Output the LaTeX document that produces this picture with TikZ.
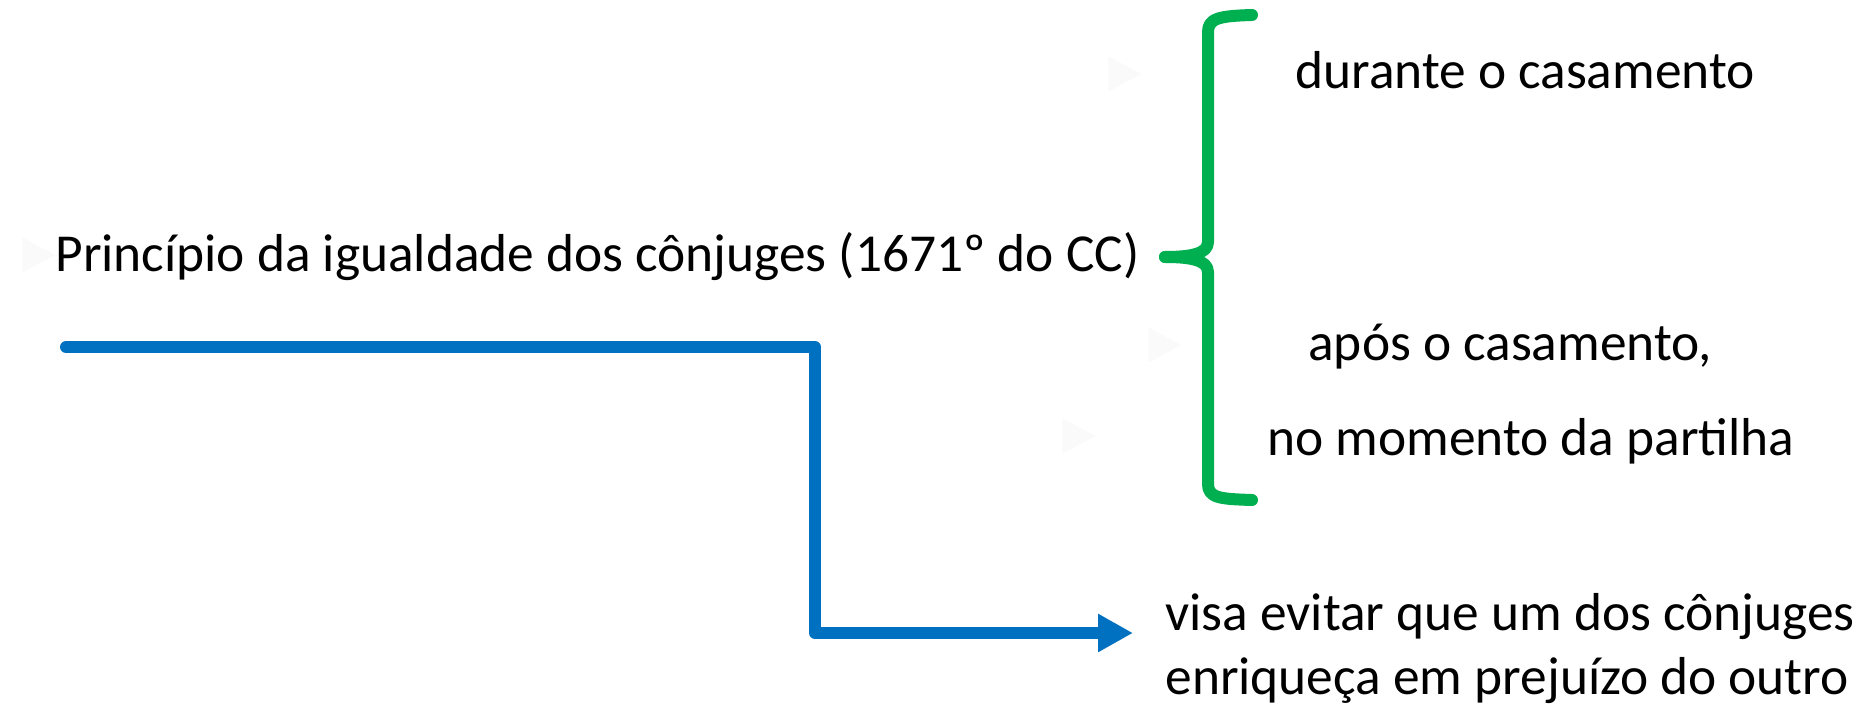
\documentclass[tikz,border=0pt]{standalone}
\usepackage{fontspec}
\setmainfont{Carlito}
\usepackage{xcolor}
\usepackage{tikz}
\usetikzlibrary{arrows.meta, positioning, shapes.geometric}

\definecolor{bracegreen}{HTML}{00B050}
\definecolor{arrowblue}{HTML}{0070C0}

\begin{document}
\begin{tikzpicture}[
      x=0.5pt, y=-0.5pt,
      every node/.style={inner sep=0pt, font=\fontsize{26.7}{31}\selectfont},
      label text/.style={anchor=base west, align=left},
      ghost/.style={isosceles triangle, isosceles triangle stretches,
        fill=black!2, minimum width=17.5pt, minimum height=16.5pt},
      brace line/.style={draw=bracegreen, line width=6pt, line cap=round, line join=round},
      flow line/.style={draw=arrowblue, line width=6pt, line cap=round, line join=round,
        -{Triangle[length=17.5pt, width=18pt]}},
    ]

    \useasboundingbox (0,0) rectangle (1873,705);

    % faint bullets
    \node[ghost] (b0) at (33,255)   {};
    \node[ghost] (b1) at (1119,74)  {};
    \node[ghost] (b2) at (1159,345) {};
    \node[ghost] (b3) at (1073,436) {};

    % texts
    \node[label text] (main)   at (55,272)   {Princípio da igualdade dos cônjuges (1671º do CC)};
    \node[label text] (during) at (1295,89)  {durante o casamento};
    \node[label text] (after)  at (1308,361) {após o casamento,};
    \node[label text] (split)  at (1267,455) {no momento da partilha};
    \node[label text] (goal)   at (1165,694) {visa evitar que um dos cônjuges\\[1pt]enriqueça em prejuízo do outro};

    % brace
    \coordinate (btop) at (1252,15);
    \coordinate (btip) at (1165,257);
    \coordinate (bbot) at (1252,500);
    \draw[brace line] (btop) .. controls (1220,16) and (1208,18) .. (1208,32)
      -- (1208,242) .. controls (1208,254) and (1190,257) .. (btip);
    \draw[brace line] (btip) .. controls (1190,257) and (1208,260) .. (1208,272)
      -- (1208,484) .. controls (1208,498) and (1220,499) .. (bbot);

    % arrow
    \coordinate (start) at (66,347);
    \coordinate (bend)  at (815,633);
    \coordinate (tip)   at (1133,633);
    \draw[flow line] (start) -| (bend) -- (tip);

  \end{tikzpicture}
\end{document}
